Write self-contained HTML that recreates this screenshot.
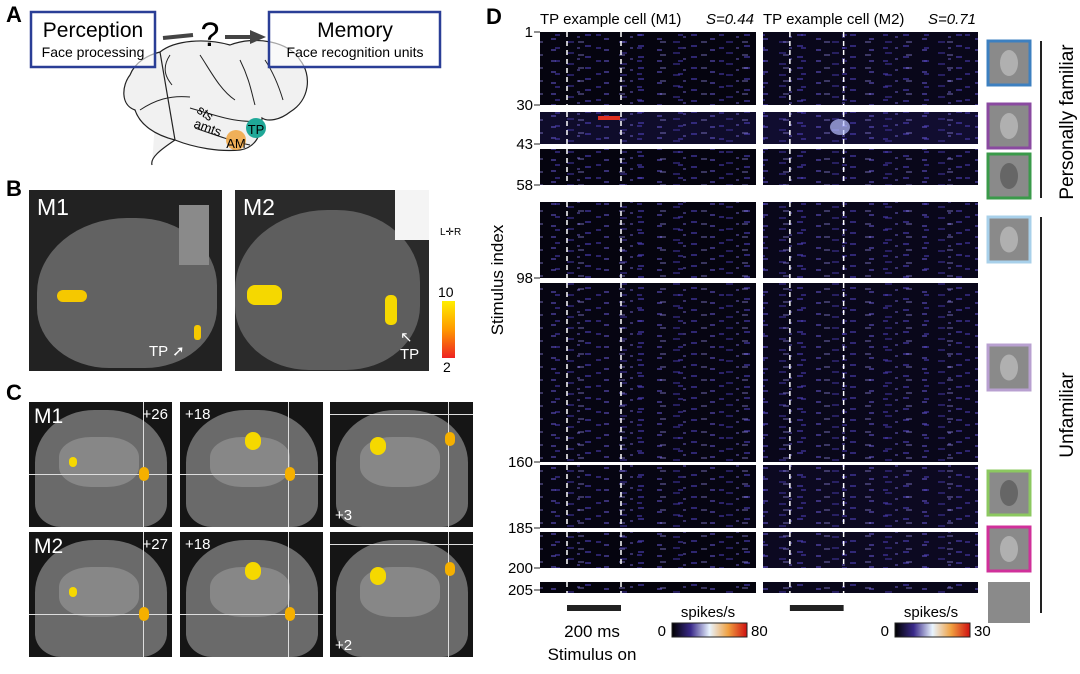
<!DOCTYPE html>
<html><head><meta charset="utf-8">
<style>
body{margin:0;background:#fff;width:1080px;height:674px;overflow:hidden;font-family:"Liberation Sans",sans-serif;}
#root{position:relative;width:1080px;height:674px;}
.abs{position:absolute;}
.lbl{font-weight:bold;font-size:22px;}
.img{background:#3a3a3a;overflow:hidden;}
.wt{color:#fff;font-size:20px;}
</style></head><body>
<div id="root">
<!-- Panel A -->
<div class="abs lbl" style="left:6px;top:2px">A</div>
<svg class="abs" style="left:0;top:0" width="480" height="170">
  <path d="M160,52 C175,40 205,38 230,45 C255,35 290,42 300,60 C312,75 310,100 290,112 C280,120 268,122 262,118 C262,135 255,148 240,150 C220,152 195,148 175,140 C160,150 150,158 152,165 M175,140 C155,135 140,125 135,110 C120,105 122,85 130,75 C135,62 148,55 160,52 Z" fill="#f1f1f1" stroke="#222" stroke-width="1.2"/>
  <path d="M190,108 C215,115 240,125 262,120" fill="none" stroke="#222"/>
  <path d="M195,128 C215,135 235,142 250,145" fill="none" stroke="#222"/>
  <path d="M170,55 C160,70 168,80 172,85 M200,55 C210,70 220,90 235,100 M240,60 C250,80 252,95 255,105 M265,60 C275,75 280,90 283,100 M140,110 C155,100 170,95 190,97" fill="none" stroke="#222"/>
  <text x="196" y="112" font-size="13" transform="rotate(35 196 112)" font-family="Liberation Sans">sts</text>
  <text x="193" y="127" font-size="13" transform="rotate(20 193 127)" font-family="Liberation Sans">amts</text>
  <circle cx="236" cy="140" r="10" fill="#f0a848" opacity="0.9"/>
  <text x="236" y="148" font-size="13" text-anchor="middle" font-family="Liberation Sans">AM</text>
  <circle cx="256" cy="128" r="10" fill="#20a898"/>
  <text x="256" y="134" font-size="13" text-anchor="middle" font-family="Liberation Sans">TP</text>
  <line x1="163" y1="38" x2="193" y2="35" stroke="#444" stroke-width="4"/>
  <text x="210" y="46" font-size="34" text-anchor="middle" font-family="Liberation Sans">?</text>
  <line x1="225" y1="37" x2="252" y2="37" stroke="#444" stroke-width="4"/>
  <polygon points="250,30 266,37 250,44" fill="#444"/>
  <rect x="31" y="12" width="124" height="55" fill="#fff" fill-opacity="0.6" stroke="#2a3e96" stroke-width="2.5"/>
  <text x="93" y="37" font-size="21" text-anchor="middle" font-family="Liberation Sans">Perception</text>
  <text x="93" y="57" font-size="14" text-anchor="middle" font-family="Liberation Sans">Face processing</text>
  <rect x="269" y="12" width="171" height="55" fill="#fff" fill-opacity="0.6" stroke="#2a3e96" stroke-width="2.5"/>
  <text x="355" y="37" font-size="21" text-anchor="middle" font-family="Liberation Sans">Memory</text>
  <text x="355" y="57" font-size="14" text-anchor="middle" font-family="Liberation Sans">Face recognition units</text>
</svg>

<!-- Panel B -->
<div class="abs lbl" style="left:6px;top:176px">B</div>
<div class="abs img" style="left:29px;top:190px;width:193px;height:181px;background:#222">
  <div class="abs" style="left:8px;top:28px;width:180px;height:150px;border-radius:50% 45% 40% 40%;background:#626262"></div>
  <div class="abs" style="left:150px;top:15px;width:30px;height:60px;background:#8a8a8a"></div>
  <div class="abs" style="left:28px;top:100px;width:30px;height:12px;border-radius:6px;background:#f5c800"></div>
  <div class="abs" style="left:165px;top:135px;width:7px;height:15px;border-radius:3px;background:#f5c800"></div>
  <div class="abs wt" style="left:8px;top:4px;font-size:23px">M1</div>
  <div class="abs wt" style="left:120px;top:152px;font-size:15px">TP ➚</div>
</div>
<div class="abs img" style="left:235px;top:190px;width:194px;height:181px;background:#2a2a2a">
  <div class="abs" style="left:0px;top:20px;width:185px;height:160px;border-radius:50% 45% 40% 40%;background:#5e5e5e"></div>
  <div class="abs" style="left:160px;top:0;width:34px;height:50px;background:#f4f4f4"></div>
  <div class="abs" style="left:12px;top:95px;width:35px;height:20px;border-radius:8px;background:#f5d800"></div>
  <div class="abs" style="left:150px;top:105px;width:12px;height:30px;border-radius:5px;background:#f5d800"></div>
  <div class="abs wt" style="left:8px;top:4px;font-size:23px">M2</div>
  <div class="abs wt" style="left:165px;top:138px;font-size:15px">↖<br>TP</div>
</div>
<div class="abs" style="left:440px;top:227px;font-size:10px">L✛R</div>
<div class="abs" style="left:442px;top:301px;width:13px;height:57px;background:linear-gradient(#ffee00,#ff9900,#ee2222)"></div>
<div class="abs" style="left:438px;top:284px;font-size:14px">10</div>
<div class="abs" style="left:443px;top:359px;font-size:14px">2</div>

<!-- Panel C -->
<div class="abs lbl" style="left:6px;top:380px">C</div>
<div id="cgrid"></div>

<!-- Panel D -->
<div class="abs lbl" style="left:486px;top:4px">D</div>
<svg id="raster" class="abs" style="left:0;top:0" width="1080" height="674">
  <defs>
    <pattern id="tex" width="53" height="11" patternUnits="userSpaceOnUse">
      <rect x="2" y="1" width="6" height="2" fill="#4a3cb0" opacity="0.6"/>
      <rect x="21" y="5" width="5" height="2" fill="#6a5ad8" opacity="0.5"/>
      <rect x="37" y="8" width="7" height="2" fill="#3a2e90" opacity="0.6"/>
      <rect x="47" y="3" width="3" height="2" fill="#8070e8" opacity="0.4"/>
    </pattern>
    <pattern id="tex2" width="41" height="13" patternUnits="userSpaceOnUse" patternTransform="translate(17,6)">
      <rect x="5" y="2" width="5" height="2" fill="#5040c0" opacity="0.5"/>
      <rect x="28" y="9" width="6" height="2" fill="#9a90f0" opacity="0.35"/>
    </pattern>
    <linearGradient id="cmap" x1="0" x2="1">
      <stop offset="0" stop-color="#000"/><stop offset="0.25" stop-color="#3a2a8a"/>
      <stop offset="0.5" stop-color="#e8f4ff"/><stop offset="0.75" stop-color="#f0a040"/><stop offset="1" stop-color="#d01010"/>
    </linearGradient>
  </defs>
</svg>
</div>
<script>
// ---- Panel C slices ----
const cSlices=[["M1","+26"],["","+18"],["","+3"],["M2","+27"],["","+18"],["","+2"]];
const cg=document.getElementById('cgrid');
const cx=[29,180,330], cy=[402,532];
cSlices.forEach((s,i)=>{
  const d=document.createElement('div');
  
  
  d.className='abs img';
  const c=i%3,r=Math.floor(i/3);
  d.style.cssText=`left:${cx[c]}px;top:${cy[r]}px;width:143px;height:125px;background:#151515`;
  d.innerHTML=`<div class="abs" style="left:6px;top:8px;width:132px;height:117px;border-radius:45% 45% 20% 20%;background:#6a6a6a"></div>
  <div class="abs" style="left:30px;top:35px;width:80px;height:50px;border-radius:40%;background:#878787"></div>
  <div class="abs" style="left:0;top:${c==2?12:r==0?72:82}px;width:143px;height:1px;background:#ddd"></div>
  <div class="abs" style="left:${c==0?114:c==1?108:118}px;top:0;width:1px;height:125px;background:#ddd"></div>
  <div class="abs" style="left:${c==0?110:c==1?105:115}px;top:${c==2?30:r==0?65:75}px;width:10px;height:14px;border-radius:5px;background:#f5b000"></div>
  <div class="abs" style="left:${c==1?65:40}px;top:${c==1?30:c==2?35:55}px;width:${c==0?8:16}px;height:${c==0?10:18}px;border-radius:8px;background:#f5d800"></div>
  ${s[0]?`<div class="abs wt" style="left:5px;top:3px;font-size:21px">${s[0]}</div>`:''}
  <div class="abs wt" style="${c==2?'left:5px;bottom:3px':c==0?'right:4px;top:4px':'left:5px;top:4px'};font-size:15px">${s[1]}</div>`;
  cg.appendChild(d);
});

// ---- Panel D raster ----
const groupStart=[1,30,43,58,98,160,185,200];
const groupEnd=[30,43,58,98,160,185,200,205];
const tickLabels=[1,30,43,58,98,160,185,200,205];
const meanRateM1=[4,14,4,4,5,5,4,3];   // spikes/s, approx block brightness
const meanRateM2=[3,6,3,3,3,4,4,3];
const maxM1=80, maxM2=30;
const thumbColors=["#3d80c0","#8a4aa0","#3a9a4a","#a8d0ea","#b8a0d0","#8cc860","#d0309a","none"];
const knotIdx=[1,30,30,43,43,58,58,98,98,160,160,185,185,200,200,205];
const knotY=[32,105,112,144,149,185,202,278,283,462,465,528,532,568,582,593];
function yScale(v,g){const a=knotY[g*2],b=knotY[g*2+1],s=knotIdx[g*2],e=knotIdx[g*2+1];return a+(v-s)/(e-s)*(b-a);}
const tickY=[32,105,144,185,278,462,528,568,590];
const panels=[{x0:540,x1:756,rates:meanRateM1,max:maxM1,title:"TP example cell (M1)",S:"S=0.44"},
              {x0:763,x1:978,rates:meanRateM2,max:maxM2,title:"TP example cell (M2)",S:"S=0.71"}];
const svg=document.getElementById('raster');
const NS="http://www.w3.org/2000/svg";
function el(t,a){const e=document.createElementNS(NS,t);for(const k in a)e.setAttribute(k,a[k]);svg.appendChild(e);return e;}
function rateColor(r,m){const f=Math.min(1,r/m)*4;const v=Math.round(4+f*55);return `rgb(${Math.round(v*0.35)},${Math.round(v*0.28)},${v})`;}
panels.forEach((p,pi)=>{
  const w=p.x1-p.x0, xs=t=>p.x0+(t+100)/800*w;
  groupStart.forEach((s,g)=>{
    const y0=yScale(s,g),y1=yScale(groupEnd[g],g);
    const r=el('rect',{x:p.x0,y:y0,width:w,height:y1-y0,fill:rateColor(p.rates[g],p.max)});
    
    
    const t=el('rect',{x:p.x0,y:y0,width:w,height:y1-y0,fill:'url(#tex)'});
    
    
    const t2=el('rect',{x:p.x0,y:y0,width:w,height:y1-y0,fill:'url(#tex2)'});
    
    
    [0,200].forEach(tm=>{const l=el('line',{x1:xs(tm),x2:xs(tm),y1:y0,y2:y1,stroke:'#fff','stroke-width':1.5,'stroke-dasharray':'5,4'});
      
      });
  });
  const tt=el('text',{x:p.x0,y:24,'font-size':15,'font-family':'Liberation Sans'});tt.textContent=p.title;
  
  
  const st=el('text',{x:p.x1-2,y:24,'font-size':15,'font-style':'italic','text-anchor':'end','font-family':'Liberation Sans'});st.textContent=p.S;
  
  
  const sb=el('rect',{x:xs(0),y:605,width:xs(200)-xs(0),height:6,fill:'#222'});
  
  
  const cb=el('rect',{x:p.x0+132,y:623,width:75,height:14,fill:'url(#cmap)',stroke:'#222'});
  
  
  const c0=el('text',{x:p.x0+126,y:636,'font-size':15,'text-anchor':'end','font-family':'Liberation Sans'});c0.textContent='0';
  const c1=el('text',{x:p.x0+211,y:636,'font-size':15,'font-family':'Liberation Sans'});c1.textContent=String(p.max);
  const cu=el('text',{x:p.x0+168,y:617,'font-size':15,'text-anchor':'middle','font-family':'Liberation Sans'});cu.textContent='spikes/s';
});
const hl1=el('rect',{x:598,y:116,width:22,height:4,fill:'#e03020'});


const hl2=el('ellipse',{cx:840,cy:127,rx:10,ry:8,fill:'#b8c0ff',opacity:0.7});


tickLabels.forEach((v,i)=>{
  const y=tickY[i];
  const l=el('line',{x1:534,x2:540,y1:y,y2:y,stroke:'#222'});
  
  
  const t=el('text',{x:533,y:y+5,'font-size':15,'text-anchor':'end','font-family':'Liberation Sans'});t.textContent=v;
  
  
});
const yt=el('text',{x:0,y:0,'font-size':17,'text-anchor':'middle','font-family':'Liberation Sans',transform:'translate(503,280) rotate(-90)'});yt.textContent='Stimulus index';


const ms=el('text',{x:592,y:637,'font-size':17,'text-anchor':'middle','font-family':'Liberation Sans'});ms.textContent='200 ms';
const so=el('text',{x:592,y:660,'font-size':17,'text-anchor':'middle','font-family':'Liberation Sans'});so.textContent='Stimulus on';


const thumbY=[41,104,154,217,345,471,527,582], thumbH=[44,44,44,45,45,44,44,41];
thumbColors.forEach((c,i)=>{
  const r=el('rect',{x:988,y:thumbY[i],width:42,height:thumbH[i],fill:'#8a8a8a',stroke:c=='none'?'none':c,'stroke-width':3});
  
  
  if(i<7){el('ellipse',{cx:1009,cy:thumbY[i]+thumbH[i]/2,rx:9,ry:13,fill:i==2||i==5?'#666':'#b0b0b0'});}
});
const b1=el('line',{x1:1041,x2:1041,y1:41,y2:198,stroke:'#222','stroke-width':2});


const b2=el('line',{x1:1041,x2:1041,y1:217,y2:613,stroke:'#222','stroke-width':2});


const pf=el('text',{x:0,y:0,'font-size':19,'text-anchor':'middle','font-family':'Liberation Sans',transform:'translate(1073,122) rotate(-90)'});pf.textContent='Personally familiar';


const uf=el('text',{x:0,y:0,'font-size':19,'text-anchor':'middle','font-family':'Liberation Sans',transform:'translate(1073,415) rotate(-90)'});uf.textContent='Unfamiliar';


</script>
</body></html>
